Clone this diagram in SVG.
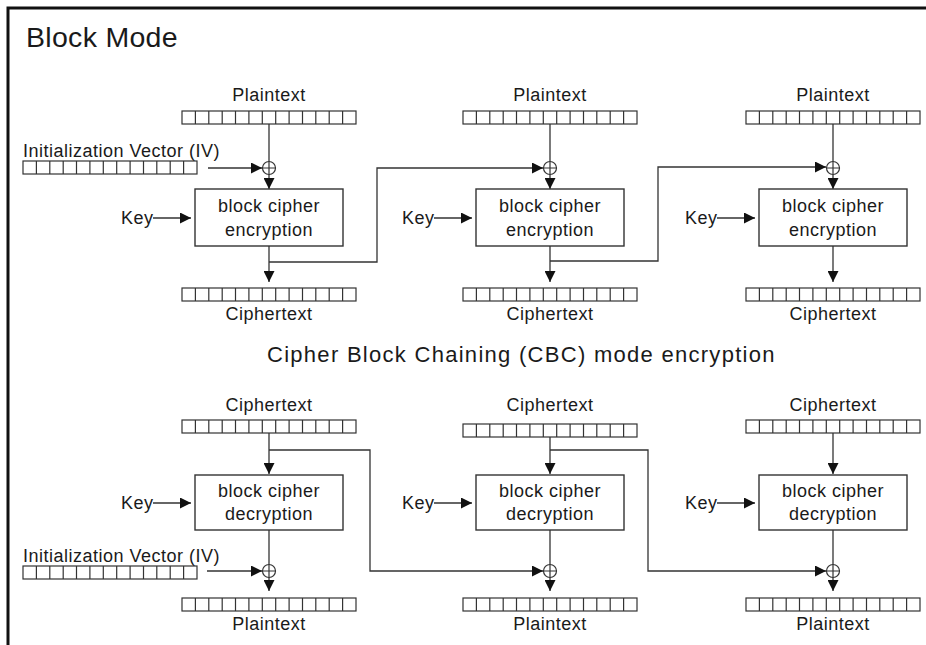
<svg xmlns="http://www.w3.org/2000/svg" xmlns:xlink="http://www.w3.org/1999/xlink" width="926" height="645" viewBox="0 0 926 645">
<style>
text{font-family:"Liberation Sans",Arial,sans-serif;fill:#1a1a1a;font-size:18px;letter-spacing:0.5px}
.c{text-anchor:middle}
.box{fill:#fff;stroke:#333;stroke-width:1.4}
.ln{fill:none;stroke:#333;stroke-width:1.3}
.ar{fill:none;stroke:#333;stroke-width:1.3;marker-end:url(#ah)}
.xor{fill:#fff;stroke:#333;stroke-width:1.2}
</style>
<defs>
<marker id="ah" viewBox="0 0 10 10" refX="10" refY="5" markerWidth="11" markerHeight="11" markerUnits="userSpaceOnUse" orient="auto">
<path d="M0,0 L10,5 L0,10 z" fill="#111"/>
</marker>
<g id="reg">
<rect x="0" y="0" width="174" height="13" fill="#fff" stroke="#333" stroke-width="1.2"/>
<path d="M13.4,0V13M26.8,0V13M40.2,0V13M53.5,0V13M66.9,0V13M80.3,0V13M93.7,0V13M107.1,0V13M120.5,0V13M133.8,0V13M147.2,0V13M160.6,0V13" stroke="#333" stroke-width="1.2"/>
</g>
<g id="xor">
<circle cx="0" cy="0" r="6.5" class="xor"/>
<path d="M-6.5,0H6.5M0,-6.5V6.5" stroke="#333" stroke-width="1.2"/>
</g>
</defs>
<rect width="926" height="645" fill="#fff"/>
<!-- frame -->
<path d="M8,645V8H926" fill="none" stroke="#111" stroke-width="3"/>
<text x="26" y="47" style="font-size:28.5px;letter-spacing:0.3px">Block Mode</text>
<text x="267" y="362" textLength="508" lengthAdjust="spacing" style="font-size:22px">Cipher Block Chaining (CBC) mode encryption</text>

<!-- connectors -->
<g id="connectors">
<!-- encryption col1 -->
<path class="ln" d="M269,124V161.5"/>
<path class="ar" d="M208,168H262"/>
<path class="ar" d="M269,174.5V189"/>
<path class="ar" d="M153,218H191"/>
<path class="ar" d="M269,246V282"/>
<path class="ar" d="M269,262H377V168H543"/>
<!-- encryption col2 -->
<path class="ln" d="M550,124V161.5"/>
<path class="ar" d="M550,174.5V189"/>
<path class="ar" d="M434,218H472"/>
<path class="ar" d="M550,246V282"/>
<path class="ar" d="M550,261H658V167H826"/>
<!-- encryption col3 -->
<path class="ln" d="M833,124V161.5"/>
<path class="ar" d="M833,174.5V189"/>
<path class="ar" d="M717,218H755"/>
<path class="ar" d="M833,246V282"/>
<!-- decryption col1 -->
<path class="ar" d="M269,433V474"/>
<path class="ar" d="M269,450H370V571H543"/>
<path class="ar" d="M153,503H191"/>
<path class="ln" d="M269,530V564.5"/>
<path class="ar" d="M207,571H262"/>
<path class="ar" d="M269,577.5V591"/>
<!-- decryption col2 -->
<path class="ar" d="M550,437V474"/>
<path class="ar" d="M550,450H648V571H826"/>
<path class="ar" d="M434,503H472"/>
<path class="ln" d="M550,530V564.5"/>
<path class="ar" d="M550,577.5V591"/>
<!-- decryption col3 -->
<path class="ar" d="M833,433V474"/>
<path class="ar" d="M717,503H755"/>
<path class="ln" d="M833,530V564.5"/>
<path class="ar" d="M833,577.5V591"/>
</g>

<!-- encryption nodes -->
<g id="enc-iv">
<text x="23" y="157">Initialization Vector (IV)</text>
<use xlink:href="#reg" href="#reg" transform="translate(23,161)"/>
</g>
<g id="enc1">
<text class="c" x="269" y="101">Plaintext</text>
<use href="#reg" xlink:href="#reg" transform="translate(182,111)"/>
<use href="#xor" xlink:href="#xor" transform="translate(269,168)"/>
<text x="121" y="224">Key</text>
<rect class="box" x="195" y="189" width="148" height="57"/>
<text class="c" x="269" y="212">block cipher</text>
<text class="c" x="269" y="236">encryption</text>
<use href="#reg" xlink:href="#reg" transform="translate(182,288)"/>
<text class="c" x="269" y="320">Ciphertext</text>
</g>
<g id="enc2">
<text class="c" x="550" y="101">Plaintext</text>
<use href="#reg" xlink:href="#reg" transform="translate(463,111)"/>
<use href="#xor" xlink:href="#xor" transform="translate(550,168)"/>
<text x="402" y="224">Key</text>
<rect class="box" x="476" y="189" width="148" height="57"/>
<text class="c" x="550" y="212">block cipher</text>
<text class="c" x="550" y="236">encryption</text>
<use href="#reg" xlink:href="#reg" transform="translate(463,288)"/>
<text class="c" x="550" y="320">Ciphertext</text>
</g>
<g id="enc3">
<text class="c" x="833" y="101">Plaintext</text>
<use href="#reg" xlink:href="#reg" transform="translate(746,111)"/>
<use href="#xor" xlink:href="#xor" transform="translate(833,168)"/>
<text x="685" y="224">Key</text>
<rect class="box" x="759" y="189" width="148" height="57"/>
<text class="c" x="833" y="212">block cipher</text>
<text class="c" x="833" y="236">encryption</text>
<use href="#reg" xlink:href="#reg" transform="translate(746,288)"/>
<text class="c" x="833" y="320">Ciphertext</text>
</g>

<!-- decryption nodes -->
<g id="dec-iv">
<text x="23" y="562">Initialization Vector (IV)</text>
<use href="#reg" xlink:href="#reg" transform="translate(23,566)"/>
</g>
<g id="dec1">
<text class="c" x="269" y="411">Ciphertext</text>
<use href="#reg" xlink:href="#reg" transform="translate(182,420)"/>
<text x="121" y="509">Key</text>
<rect class="box" x="195" y="475" width="148" height="55"/>
<text class="c" x="269" y="497">block cipher</text>
<text class="c" x="269" y="520">decryption</text>
<use href="#xor" xlink:href="#xor" transform="translate(269,571)"/>
<use href="#reg" xlink:href="#reg" transform="translate(182,598)"/>
<text class="c" x="269" y="630">Plaintext</text>
</g>
<g id="dec2">
<text class="c" x="550" y="411">Ciphertext</text>
<use href="#reg" xlink:href="#reg" transform="translate(463,424)"/>
<text x="402" y="509">Key</text>
<rect class="box" x="476" y="475" width="148" height="55"/>
<text class="c" x="550" y="497">block cipher</text>
<text class="c" x="550" y="520">decryption</text>
<use href="#xor" xlink:href="#xor" transform="translate(550,571)"/>
<use href="#reg" xlink:href="#reg" transform="translate(463,598)"/>
<text class="c" x="550" y="630">Plaintext</text>
</g>
<g id="dec3">
<text class="c" x="833" y="411">Ciphertext</text>
<use href="#reg" xlink:href="#reg" transform="translate(746,420)"/>
<text x="685" y="509">Key</text>
<rect class="box" x="759" y="475" width="148" height="55"/>
<text class="c" x="833" y="497">block cipher</text>
<text class="c" x="833" y="520">decryption</text>
<use href="#xor" xlink:href="#xor" transform="translate(833,571)"/>
<use href="#reg" xlink:href="#reg" transform="translate(746,598)"/>
<text class="c" x="833" y="630">Plaintext</text>
</g>
</svg>
